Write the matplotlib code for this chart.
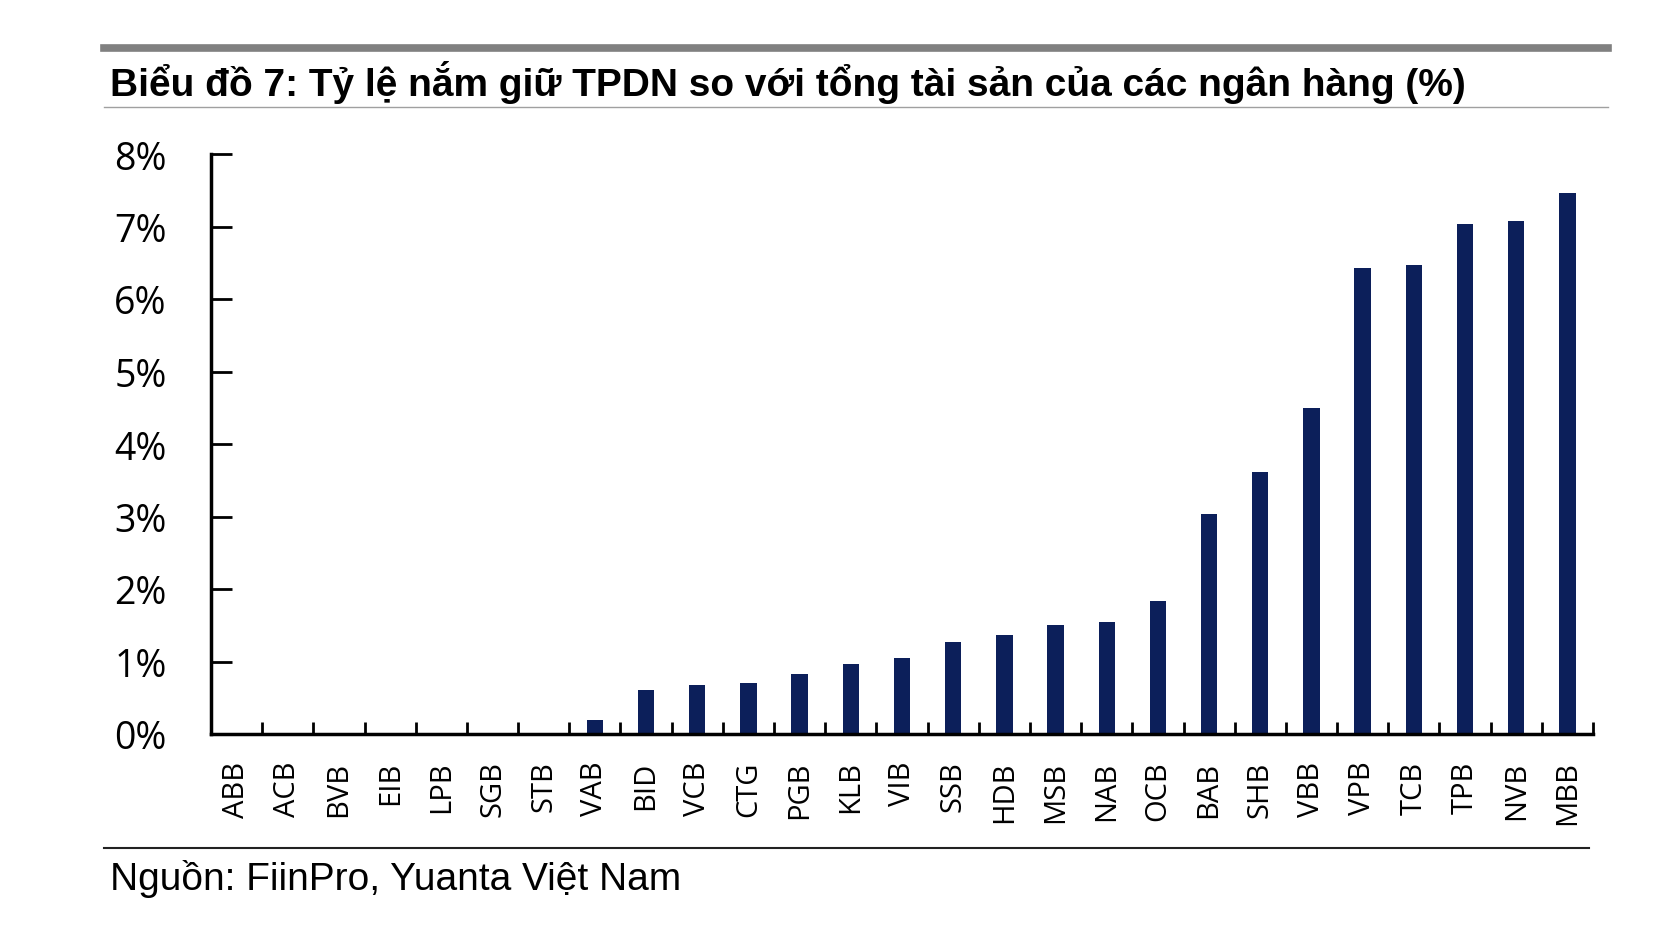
import numpy as np
import matplotlib
matplotlib.use("Agg")
import matplotlib.pyplot as plt
from matplotlib.lines import Line2D
from matplotlib.ticker import FuncFormatter

banks = ["ABB", "ACB", "BVB", "EIB", "LPB", "SGB", "STB", "VAB", "BID", "VCB",
         "CTG", "PGB", "KLB", "VIB", "SSB", "HDB", "MSB", "NAB", "OCB", "BAB",
         "SHB", "VBB", "VPB", "TCB", "TPB", "NVB", "MBB"]
ratio = [0.0, 0.0, 0.0, 0.0, 0.0, 0.0, 0.0, 0.19, 0.61, 0.68,
         0.71, 0.83, 0.96, 1.05, 1.27, 1.36, 1.50, 1.54, 1.84, 3.04,
         3.62, 4.49, 6.43, 6.47, 7.04, 7.07, 7.46]
yticks = [0, 1, 2, 3, 4, 5, 6, 7, 8]

title = "Biểu đồ 7: Tỷ lệ nắm giữ TPDN so với tổng tài sản của các ngân hàng (%)"
source = "Nguồn: FiinPro, Yuanta Việt Nam"

W, H = 1680, 928
fig = plt.figure(figsize=(W / 100, H / 100), dpi=100)

def fx(px):
    return px / W

def fy(py):
    return 1 - py / H

# frame lines and texts
fig.add_artist(Line2D([fx(104), fx(1608)], [fy(49), fy(49)], color="#808080", lw=5.5))
fig.add_artist(Line2D([fx(104), fx(1608)], [fy(108), fy(108)], color="#a0a0a0", lw=1))
fig.add_artist(Line2D([fx(104), fx(1589)], [fy(849), fy(849)], color="#222222", lw=1.5))
fig.text(fx(110), fy(83), title, fontsize=28, fontweight="bold",
         family="Liberation Sans", va="center", ha="left")
fig.text(fx(110), fy(879), source, fontsize=28, family="Liberation Sans",
         va="center", ha="left")

ax = fig.add_axes([fx(211), fy(735), fx(1593) - fx(211), fy(155) - fy(735)])
x = np.arange(len(banks))
ax.bar(x, ratio, width=0.32, color="#0c1f5a")

ax.set_xlim(-0.5, len(banks) - 0.5)
ax.set_ylim(0, 8)
ax.set_yticks(yticks)
ax.yaxis.set_major_formatter(FuncFormatter(lambda v, p: f"{v:.0f}%"))
ax.set_xticks(x)
ax.set_xticklabels(banks, rotation=90, fontsize=21, family="Open Sans")
ax.set_xticks(np.arange(-0.5, len(banks), 1), minor=True)
ax.tick_params(axis="x", which="major", length=0, pad=19)
ax.tick_params(axis="x", which="minor", direction="in", length=9, width=2)
ax.tick_params(axis="y", direction="in", length=15, width=2, pad=32, labelsize=27)
for lab in ax.get_yticklabels():
    lab.set_family("Open Sans")

for s in ["top", "right"]:
    ax.spines[s].set_visible(False)
for s in ["left", "bottom"]:
    ax.spines[s].set_linewidth(2.5)

fig.savefig("out.png", dpi=100)
